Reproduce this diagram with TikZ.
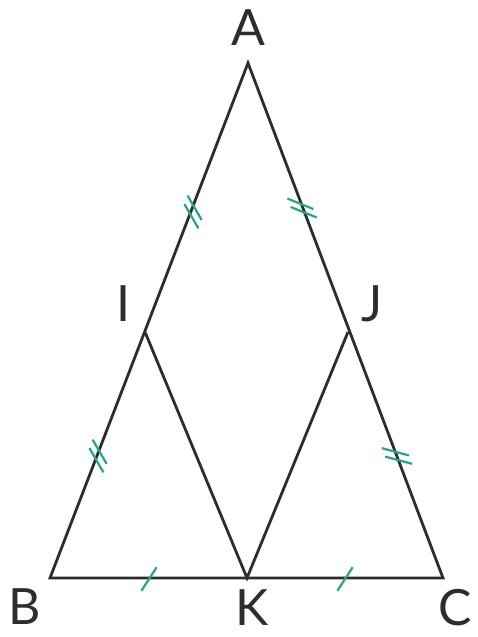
\documentclass[tikz,border=0pt]{standalone}
\usepackage{fontspec}
\setmainfont{Lato}
\usepackage{tikz}
\usetikzlibrary{calc}
\usepackage{xcolor}
\definecolor{markgreen}{RGB}{40,165,135}
\definecolor{linegray}{RGB}{45,45,45}

% double tick mark: centre, tick angle, side angle
\newcommand{\dbltick}[3]{%
  \draw[tick] ($(#1)+(#3:4.5pt)+(#2:-14pt)$) -- ++(#2:28pt);
  \draw[tick] ($(#1)+(#3:-4.5pt)+(#2:-14pt)$) -- ++(#2:28pt);}

\begin{document}
\begin{tikzpicture}[
    x=1pt, y=1pt,
    side/.style={draw=linegray, line width=2.8pt, line join=miter},
    tick/.style={draw=markgreen, line width=2.2pt},
    lbl/.style={inner sep=0pt, text=linegray, font=\fontsize{50}{50}\selectfont}
]
\fill[white] (0,0) rectangle (477,637);
\useasboundingbox (0,0) rectangle (477,637);

% vertices
\coordinate (A) at (248,574);
\coordinate (B) at (50,59);
\coordinate (C) at (443,59);
\coordinate (K) at (247,59);
\coordinate (I) at (145,305);
\coordinate (J) at (348,305);

% sides
\draw[side] (A) -- (B) -- (C) -- cycle;
\draw[side] (I) -- (K) -- (J);

% labels
\node[lbl] (lA) at (248,609) {A};
\node[lbl] (lB) at (25,30) {B};
\node[lbl] (lC) at (455,29) {C};
\node[lbl] (lK) at (252,29) {K};
\node[lbl] (lI) at (123,333) {I};
\node[lbl] (lJ) at (372,333) {J};

% equal-length marks
\coordinate (mAI) at (193,425);
\coordinate (mIB) at (98,181);
\coordinate (mAJ) at (302,429);
\coordinate (mJC) at (397,181);
\coordinate (mBK) at (149,58);
\coordinate (mKC) at (345,58);

\dbltick{mAI}{-60}{69}
\dbltick{mIB}{-60}{69}
\dbltick{mAJ}{-22}{111}
\dbltick{mJC}{-15}{111}
\draw[tick] ($(mBK)+(57:-14pt)$) -- ++(57:28pt);
\draw[tick] ($(mKC)+(57:-14pt)$) -- ++(57:28pt);
\end{tikzpicture}
\end{document}
